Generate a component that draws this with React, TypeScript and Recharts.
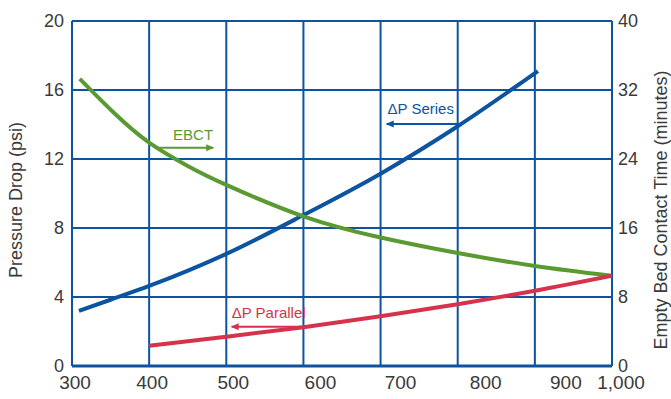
import React from 'react';
import { LineChart, Line, XAxis, YAxis, CartesianGrid, ReferenceDot, Label } from 'recharts';

// ---- data ----
const xTicks = [300, 400, 500, 600, 700, 800, 900, 1000];
const leftTicks = [0, 4, 8, 12, 16, 20];
const rightTicks = [0, 8, 16, 24, 32, 40];

const seriesX = [309, 350, 400, 500, 600, 700, 800, 904];
const seriesDP = [3.19, 3.84, 4.64, 6.5, 8.75, 11.15, 13.9, 17.1];

const ebctX = [310, 355, 400, 450, 500, 600, 700, 800, 900, 1000];
const ebctMin = [33.3, 29.3, 25.9, 23.2, 21.0, 17.35, 14.9, 13.1, 11.6, 10.46];

const parallelX = [400, 500, 600, 700, 800, 900, 1000];
const parallelDP = [1.18, 1.7, 2.25, 2.88, 3.58, 4.36, 5.23];

// annotation arrows (tail, head) in data units
const ebctArrowX = [408, 483];
const ebctArrowY = [25.3, 25.3];
const seriesArrowX = [800, 708];
const seriesArrowY = [14.03, 14.03];
const parallelArrowX = [599, 507];
const parallelArrowY = [2.28, 2.28];

// annotation text anchors
const ebctLabel = { x: 431, y: 26.2, text: 'EBCT' };
const seriesLabel = { x: 709, y: 14.6, text: '\u0394P Series' };
const parallelLabel = { x: 507, y: 2.78, text: '\u0394P Parallel' };

// ---- styles ----
const BLUE = '#0c54a0';
const GREEN = '#5b9a32';
const RED = '#d7324b';
const TEXT = '#3a3a3a';
const FONT = '"Liberation Sans", Arial, sans-serif';
const xTickNudge = [3, 3, 7, 17, 20, 28, 31, 9];

const toPts = (xs: number[], ys: number[]) => xs.map((x, i) => ({ x, y: ys[i] }));

function XTick(props: any) {
  const { x, y, payload, index } = props;
  return (
    <text
      x={x + (xTickNudge[index] ?? 0)}
      y={y}
      dy="0.71em"
      textAnchor="middle"
      fill={TEXT}
      fontSize={19}
      fontFamily={FONT}
    >
      {Number(payload.value).toLocaleString('en-US')}
    </text>
  );
}

const arrowDot = (dir: 'left' | 'right', color: string) => (props: any) => {
  const { cx, cy, index } = props;
  if (index !== 1 || cx == null) return <g key={`n${index}`} />;
  const s = dir === 'right' ? 1 : -1;
  const d = `M ${cx + s * 1} ${cy} L ${cx - s * 7} ${cy - 3.5} L ${cx - s * 7} ${cy + 3.5} Z`;
  return <path key={`h${index}`} d={d} fill={color} stroke="none" />;
};

const textShape = (text: string, color: string) => (props: any) => (
  <text x={props.cx} y={props.cy} fill={color} fontSize={15} fontFamily={FONT}>
    {text}
  </text>
);

const axisTitle = (text: string, dx: number, dy: number) => (props: any) => {
  const vb = props.viewBox;
  const cx = vb.x + dx;
  const cy = vb.y + vb.height / 2 + dy;
  return (
    <text
      x={cx}
      y={cy}
      transform={`rotate(-90 ${cx} ${cy})`}
      textAnchor="middle"
      dominantBaseline="central"
      fill={TEXT}
      fontSize={18}
      fontFamily={FONT}
    >
      {text}
    </text>
  );
};

export default function App() {
  return (
    <div style={{ position: 'absolute', left: 0, top: 0, width: 671, height: 399, background: '#fff' }}>
      <LineChart width={671} height={399} margin={{ top: 21, right: 0, bottom: 0, left: 0 }}>
        <CartesianGrid yAxisId="left" stroke={BLUE} strokeWidth={2} strokeOpacity={1} />
        <XAxis
          type="number"
          dataKey="x"
          domain={[300, 1000]}
          ticks={xTicks}
          allowDataOverflow
          height={33}
          tickLine={false}
          tickSize={0}
          tickMargin={10}
          axisLine={{ stroke: BLUE, strokeWidth: 3 }}
          tick={<XTick />}
          interval={0}
        />
        <YAxis
          yAxisId="left"
          orientation="left"
          type="number"
          domain={[0, 20]}
          ticks={leftTicks}
          width={72}
          axisLine={false}
          tickLine={false}
          tickSize={0}
          tickMargin={8}
          interval={0}
          tick={{ fill: TEXT, fontSize: 18, fontFamily: FONT }}
        >
          <Label content={axisTitle('Pressure Drop (psi)', 16, 6.5)} />
        </YAxis>
        <YAxis
          yAxisId="right"
          orientation="right"
          type="number"
          domain={[0, 40]}
          ticks={rightTicks}
          width={59}
          axisLine={false}
          tickLine={false}
          tickSize={0}
          tickMargin={6}
          interval={0}
          tick={{ fill: TEXT, fontSize: 18, fontFamily: FONT, textAnchor: 'start' }}
        >
          <Label content={axisTitle('Empty Bed Contact Time (minutes)', 49, 16.5)} />
        </YAxis>

        <Line
          yAxisId="left"
          data={toPts(seriesX, seriesDP)}
          dataKey="y"
          type="monotone"
          stroke={BLUE}
          strokeWidth={4}
          dot={false}
          isAnimationActive={false}
        />
        <Line
          yAxisId="right"
          data={toPts(ebctX, ebctMin)}
          dataKey="y"
          type="natural"
          stroke={GREEN}
          strokeWidth={4}
          dot={false}
          isAnimationActive={false}
        />
        <Line
          yAxisId="left"
          data={toPts(parallelX, parallelDP)}
          dataKey="y"
          type="monotone"
          stroke={RED}
          strokeWidth={4}
          dot={false}
          isAnimationActive={false}
        />

        <Line
          yAxisId="right"
          data={toPts(ebctArrowX, ebctArrowY)}
          dataKey="y"
          type="linear"
          stroke={GREEN}
          strokeWidth={2}
          dot={arrowDot('right', GREEN)}
          activeDot={false}
          isAnimationActive={false}
        />
        <Line
          yAxisId="left"
          data={toPts(seriesArrowX, seriesArrowY)}
          dataKey="y"
          type="linear"
          stroke={BLUE}
          strokeWidth={2}
          dot={arrowDot('left', BLUE)}
          activeDot={false}
          isAnimationActive={false}
        />
        <Line
          yAxisId="left"
          data={toPts(parallelArrowX, parallelArrowY)}
          dataKey="y"
          type="linear"
          stroke={RED}
          strokeWidth={2}
          dot={arrowDot('left', RED)}
          activeDot={false}
          isAnimationActive={false}
        />

        <ReferenceDot yAxisId="right" x={ebctLabel.x} y={ebctLabel.y} r={0} shape={textShape(ebctLabel.text, GREEN)} />
        <ReferenceDot yAxisId="left" x={seriesLabel.x} y={seriesLabel.y} r={0} shape={textShape(seriesLabel.text, BLUE)} />
        <ReferenceDot yAxisId="left" x={parallelLabel.x} y={parallelLabel.y} r={0} shape={textShape(parallelLabel.text, RED)} />
      </LineChart>
    </div>
  );
}
